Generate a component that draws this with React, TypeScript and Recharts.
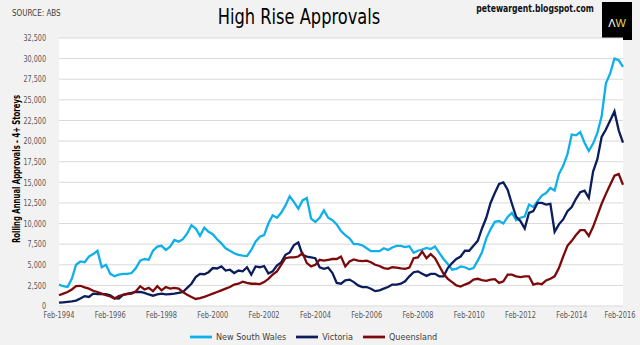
import { LineChart, Line, XAxis, YAxis, CartesianGrid, Legend } from 'recharts';

// rolling annual approvals, sampled every 2 months from Feb-1994
const nsw = [
  2600, 2400, 2300, 3300, 5000, 5400, 5300, 6000, 6300, 6700,
  4700, 5000, 3900, 3600, 3800, 3900, 3900, 4000, 4600, 5500,
  5700, 5600, 6700, 7200, 7300, 6800, 7200, 8000, 7800, 8100,
  8800, 9800, 9400, 8500, 9500, 9000, 8700, 8100, 7600, 7000,
  6700, 6400, 6200, 6100, 6050, 6800, 7800, 8400, 8600, 10000,
  11000, 10700, 11300, 12200, 13300, 12600, 11800, 12800, 13100, 10600,
  10200, 10700, 11600, 10700, 10400, 9900, 9100, 8600, 8200, 7500,
  7500, 7350, 7000, 6650, 6650, 6650, 7000, 6800, 7100, 7300,
  7300, 7150, 7250, 6450, 6700, 6850, 7050, 6900, 7200, 6450,
  5700, 5100, 4400, 4500, 4800, 4700, 4450, 4600, 5500, 6500,
  8200, 9300, 10200, 10300, 10000, 10800, 11300, 10400, 10700, 10850,
  12300, 12000, 12700, 13400, 13700, 14300, 14000, 16000, 17000, 18400,
  20800, 20700, 21100, 19800, 18800, 19700, 21000, 23000, 27000, 28200,
  30000, 29800, 29000,
];

const vic = [
  400, 450, 500, 550, 650, 900, 1200, 1100, 1500, 1450,
  1450, 1450, 1300, 950, 900, 1350, 1500, 1600, 1700, 1700,
  1600, 1400, 1250, 1400, 1500, 1400, 1450, 1500, 1600, 1700,
  2200, 2700, 3500, 3900, 3850, 4100, 4600, 4550, 4800, 4300,
  4400, 4000, 4300, 4200, 4700, 3800, 4800, 4700, 4850, 3950,
  4200, 4900, 5300, 6200, 6500, 7400, 7700, 6200, 6000, 5900,
  5800, 4700, 4500, 4650, 4000, 2800, 2700, 3100, 3200, 2900,
  2500, 2300, 2300, 2100, 1800, 1900, 2100, 2300, 2600, 2600,
  2700, 3000, 3600, 4100, 4200, 3900, 3650, 3900, 3900, 3600,
  3600, 4600, 5200, 5700, 6000, 6700, 6700, 7300, 7900, 9400,
  10700, 12500, 13700, 14800, 15000, 14100, 12400, 10800, 10300, 9400,
  11300, 11500, 12500, 12500, 12300, 12400, 9000, 9900, 10500, 11500,
  12000, 13000, 13800, 14000, 13100, 16300, 17800, 20500, 21400, 22500,
  23600, 21300, 19800,
];

const qld = [
  1300, 1500, 1700, 2000, 2400, 2450, 2250, 2100, 1850, 1700,
  1500, 1300, 1150, 900, 1200, 1350, 1450, 1500, 1800, 2400,
  2000, 2200, 1800, 2400, 1900, 2300, 2100, 2200, 2100, 1700,
  1350, 1100, 850, 950, 1100, 1300, 1500, 1700, 1900, 2100,
  2300, 2600, 2700, 2950, 2800, 2700, 2700, 2650, 2900, 3300,
  3800, 4200, 5000, 5800, 5900, 5900, 6000, 6400, 5200, 4800,
  5000, 5600, 5500, 5600, 5700, 5700, 6000, 4800, 5400, 5650,
  5500, 5450, 5500, 5300, 5000, 4850, 4600, 4500, 4700, 4650,
  4550, 4500, 4650, 5800, 5900, 6600, 5800, 6300, 5800, 4850,
  3900, 3300, 2900, 2500, 2350, 2600, 2800, 3200, 3300, 3150,
  3050, 3200, 3250, 2800, 3000, 3800, 3800, 3600, 3500, 3600,
  3600, 2600, 2750, 2650, 3100, 3300, 3600, 4600, 6000, 7300,
  7900, 8600, 9200, 9200, 8500, 9600, 11000, 12400, 13600, 14700,
  15800, 16000, 14700,
];

const seriesOrder = ['New South Wales', 'Victoria', 'Queensland'];
const tickMonths = [0, 24, 48, 72, 96, 120, 144, 168, 192, 216, 240, 264];
const tickLabels = [
  'Feb-1994', 'Feb-1996', 'Feb-1998', 'Feb-2000', 'Feb-2002', 'Feb-2004',
  'Feb-2006', 'Feb-2008', 'Feb-2010', 'Feb-2012', 'Feb-2014', 'Feb-2016',
];
const yTicks = [0, 2500, 5000, 7500, 10000, 12500, 15000, 17500, 20000, 22500, 25000, 27500, 30000, 32500];

const data = nsw.map((v, i) => ({ m: i * 2, nsw: v, vic: vic[i], qld: qld[i] }));

const narrow = "'Liberation Sans Narrow', 'Arial Narrow', 'DejaVu Sans Condensed', 'Liberation Sans', sans-serif";

// squeeze tick text horizontally to mimic Arial Narrow
function DateTick(props: any) {
  const { x, y, payload } = props;
  const isLast = payload.value === tickMonths[tickMonths.length - 1];
  const tx = isLast ? x - 3 : x;
  return (
    <text transform={`translate(${tx}, ${y}) scale(0.82, 1)`} dy="0.71em" textAnchor="middle" fontSize={9} fill="#595959" fontFamily={narrow}>
      {tickLabels[tickMonths.indexOf(payload.value)]}
    </text>
  );
}

function ValueTick(props: any) {
  const { x, y, payload } = props;
  return (
    <text transform={`translate(${x}, ${y}) scale(0.8, 1)`} dy="0.355em" textAnchor="end" fontSize={9} fill="#595959" fontFamily={narrow}>
      {payload.value.toLocaleString('en-US')}
    </text>
  );
}

function YTitle(props: any) {
  const { viewBox } = props;
  const cx = viewBox.x + 16;
  const cy = viewBox.y + viewBox.height / 2 - 3;
  return (
    <text
      x={cx}
      y={cy}
      transform={`rotate(-90, ${cx}, ${cy})`}
      textAnchor="middle"
      dominantBaseline="central"
      fontSize={10}
      fontWeight="bold"
      fill="#000"
      fontFamily={narrow}
      textLength={148}
      lengthAdjust="spacingAndGlyphs"
    >
      Rolling Annual Approvals - 4+ Storeys
    </text>
  );
}

export default function App() {
  return (
    <div style={{ position: 'absolute', left: 0, top: 0, width: 640, height: 345, background: '#f2f2f2', overflow: 'hidden', fontFamily: narrow }}>
      <div style={{ position: 'absolute', left: 12, top: 9, fontSize: 8, color: '#404040' }}>SOURCE: ABS</div>
      <div style={{ position: 'absolute', left: 0, width: 598, top: 5, textAlign: 'center', fontSize: 21, color: '#000', transform: 'scaleX(0.86)', transformOrigin: '299px 0' }}>
        High Rise Approvals
      </div>
      <div style={{ position: 'absolute', right: 46, top: 2, fontSize: 11, fontWeight: 'bold', color: '#111', transform: 'scaleX(0.78)', transformOrigin: 'right top', whiteSpace: 'nowrap' }}>
        petewargent.blogspot.com
      </div>
      <div style={{ position: 'absolute', left: 602, top: 2, width: 30, height: 38, background: '#000', color: '#fff', fontFamily: 'Liberation Sans, Arial, sans-serif', fontSize: 11, textAlign: 'center', lineHeight: '42px' }}>
        Λ<span style={{ color: '#e8dc5a' }}>W</span>
      </div>
      <LineChart width={640} height={345} data={data} margin={{ top: 38, right: 17, bottom: 5, left: 0 }}>
        <CartesianGrid vertical={false} stroke="#d9d9d9" fill="#ffffff" />
        <XAxis
          dataKey="m"
          type="number"
          domain={[0, 264]}
          ticks={tickMonths}
          height={20}
          axisLine={false}
          tickLine={false}
          tickSize={0}
          tickMargin={6}
          tick={<DateTick />}
        />
        <YAxis
          width={59}
          domain={[0, 32500]}
          ticks={yTicks}
          interval={0}
          axisLine={false}
          tickLine={false}
          tickMargin={7}
          tick={<ValueTick />}
          label={<YTitle />}
        />
        <Legend
          height={14}
          iconType="plainline"
          iconSize={22}
          itemSorter={(item: { value: string }) => seriesOrder.indexOf(item.value)}
          wrapperStyle={{ left: 190, width: 'auto', fontSize: 9, fontFamily: narrow, color: '#404040' }}
          formatter={(value: string) => <span style={{ color: '#404040' }}>{value}</span>}
        />
        <Line name="New South Wales" dataKey="nsw" stroke="#0fb0ea" strokeWidth={2.3} dot={false} isAnimationActive={false} />
        <Line name="Victoria" dataKey="vic" stroke="#0b1d5a" strokeWidth={2.3} dot={false} isAnimationActive={false} />
        <Line name="Queensland" dataKey="qld" stroke="#7d0a0a" strokeWidth={2.3} dot={false} isAnimationActive={false} />
      </LineChart>
    </div>
  );
}
